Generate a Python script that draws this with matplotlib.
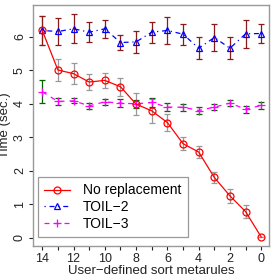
import numpy as np
import matplotlib
matplotlib.use("Agg")
import matplotlib.pyplot as plt

plt.rcParams['font.family'] = ['Liberation Sans', 'DejaVu Sans']

metarules = [14, 13, 12, 11, 10, 9, 8, 7, 6, 5, 4, 3, 2, 1, 0]

# No replacement
no_repl = [6.19, 5.01, 4.90, 4.65, 4.70, 4.51, 3.99, 3.79, 3.44, 2.81, 2.56, 1.80, 1.25, 0.78, 0.02]
no_repl_err = [0.43, 0.33, 0.32, 0.23, 0.23, 0.27, 0.32, 0.35, 0.26, 0.19, 0.18, 0.15, 0.20, 0.20, 0.0]

# TOIL-2
toil2 = [6.19, 6.16, 6.24, 6.14, 6.24, 5.83, 5.85, 6.14, 6.19, 6.08, 5.66, 5.98, 5.66, 6.09, 6.10]
toil2_err = [0.43, 0.41, 0.43, 0.30, 0.27, 0.23, 0.33, 0.31, 0.40, 0.31, 0.33, 0.40, 0.33, 0.42, 0.27]

# TOIL-3
toil3 = [4.36, 4.07, 4.09, 3.94, 4.06, 4.02, 4.00, 4.04, 3.90, 3.90, 3.80, 3.90, 4.02, 3.84, 3.95]
toil3_err = [0.34, 0.10, 0.08, 0.09, 0.09, 0.11, 0.12, 0.13, 0.12, 0.10, 0.09, 0.08, 0.09, 0.10, 0.09]

fig = plt.figure(figsize=(2.74, 2.80), dpi=100)
ax = fig.add_axes([0.120, 0.121, 0.862, 0.861])

cap = 2.5
elw = 0.9
ax.errorbar(metarules, no_repl, yerr=no_repl_err, fmt='none', ecolor='#999999',
            elinewidth=elw, capsize=cap, capthick=elw, zorder=1)
ax.errorbar(metarules, toil2, yerr=toil2_err, fmt='none', ecolor='#8B1A1A',
            elinewidth=elw, capsize=cap, capthick=elw, zorder=1)
ax.errorbar(metarules, toil3, yerr=toil3_err, fmt='none', ecolor='#006400',
            elinewidth=elw, capsize=cap, capthick=elw, zorder=1)

ax.plot(metarules, toil3, color='#FF00FF', linestyle=(0, (4, 4)), linewidth=0.9,
        marker='+', markersize=5.5, markeredgewidth=0.9, label='TOIL\u22123', zorder=2)
ax.plot(metarules, toil2, color='#0000FF', linestyle=(0, (1, 3, 4, 3)), linewidth=0.9,
        marker='^', markersize=5, markerfacecolor='none', markeredgewidth=0.9,
        label='TOIL\u22122', zorder=3)
ax.plot(metarules, no_repl, color='#FF0000', linestyle='-', linewidth=0.9,
        marker='o', markersize=5, markerfacecolor='none', markeredgewidth=0.9,
        label='No replacement', zorder=4)

ax.set_xlim(14.6, -0.5)
ax.set_ylim(-0.25, 6.95)
ax.set_xticks(range(0, 15))
ax.set_xticklabels([str(v) if v % 2 == 0 else '' for v in range(0, 15)])
ax.set_yticks(range(0, 7))
for lbl in ax.get_yticklabels():
    lbl.set_rotation(90)
    lbl.set_va('center')

ax.tick_params(axis='both', direction='out', length=3, width=0.8, labelsize=9,
               colors='#222222', pad=2)
for s in ax.spines.values():
    s.set_color('#999999')
    s.set_linewidth(1.0)

ax.set_xlabel('User\u2212defined sort metarules', fontsize=9.5, labelpad=0, color='#222222')
ax.set_ylabel('Time (sec.)', fontsize=9.5, labelpad=2, color='#222222')

handles, labels = ax.get_legend_handles_labels()
order = [2, 1, 0]
leg = ax.legend([handles[i] for i in order], [labels[i] for i in order],
                loc='lower left', bbox_to_anchor=(0.021, 0.037), fontsize=10,
                fancybox=False, framealpha=1, edgecolor='#999999',
                handlelength=1.9, handletextpad=0.9, labelspacing=0.2,
                borderpad=0.45, borderaxespad=0)
leg.get_frame().set_linewidth(0.9)

fig.savefig('out.png', dpi=100)
